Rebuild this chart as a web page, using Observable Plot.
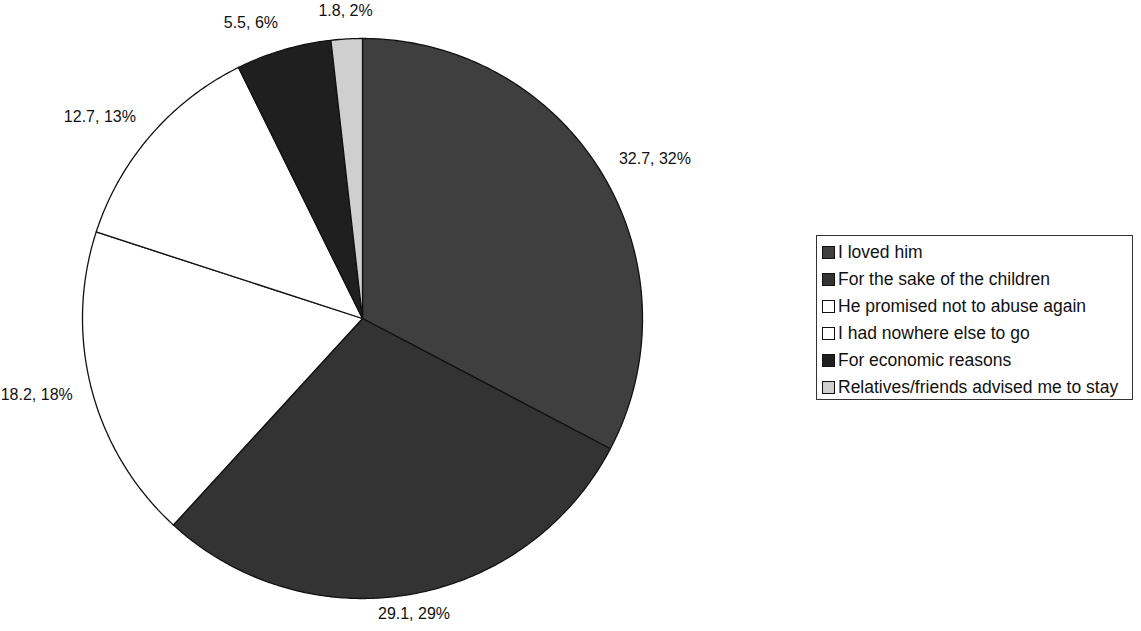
<!DOCTYPE html>
<html><head><meta charset="utf-8">
<script src="https://cdn.jsdelivr.net/npm/d3@7"></script>
<script src="https://cdn.jsdelivr.net/npm/@observablehq/plot@0.6"></script>
<style>
body{margin:0;background:#fff;font-family:"Liberation Sans",Arial,sans-serif;}
#wrap{position:relative;width:1141px;height:631px;}
#legend{position:absolute;left:816px;top:235px;width:317px;height:165px;border:1px solid #333;box-sizing:border-box;padding:3px 0 0 5px;font-size:17.5px;color:#111;}
#legend .row{height:27px;display:flex;align-items:center;white-space:nowrap;}
#legend .sw{width:11px;height:11px;border:1px solid #111;margin-right:3px;flex:none;}
</style></head>
<body><div id="wrap"><div id="chart"></div><div id="legend"></div></div>
<script>
const categories = ["I loved him","For the sake of the children","He promised not to abuse again","I had nowhere else to go","For economic reasons","Relatives/friends advised me to stay"];
const values = [32.7, 29.1, 18.2, 12.7, 5.5, 1.8];
const percents = ["32%","29%","18%","13%","6%","2%"];
const colors = ["#3f3f3f","#333333","#ffffff","#ffffff","#1f1f1f","#cfcfcf"];

const pie = d3.pie().sort(null).value(d => d.value).startAngle(0).endAngle(2*Math.PI);
const data = categories.map((name,i)=>({name, value: values[i], pct: percents[i]}));
const arcs = pie(data);

const pts = [];
for (const a of arcs) {
  pts.push({name:a.data.name, x:0, y:0});
  const n = Math.max(4, Math.ceil((a.endAngle - a.startAngle) / 0.01));
  for (let k=0;k<=n;k++){
    const t = a.startAngle + (a.endAngle - a.startAngle)*k/n;
    pts.push({name:a.data.name, x:Math.sin(t), y:Math.cos(t)});
  }
}
const labels = arcs.map(a=>{
  const m = (a.startAngle + a.endAngle)/2;
  const s = Math.sin(m), c = Math.cos(m);
  return {text: `${a.data.value}, ${a.data.pct}`, x: 1.07*s, y: 1.07*c + 0.029*Math.max(c,0),
    anchor: Math.abs(s) < 0.2 ? "middle" : (s > 0 ? "start" : "end")};
});

const chart = Plot.plot({
  width: 1141, height: 631,
  marginLeft: 82, marginRight: 499, marginTop: 38, marginBottom: 33,
  x: {domain: [-1,1], axis: null},
  y: {domain: [-1,1], axis: null},
  color: {domain: categories, range: colors},
  style: {fontFamily: "'Liberation Sans', Arial, sans-serif", fontSize: "16px", background: "#fff"},
  marks: [
    Plot.line(pts, {x:"x", y:"y", z:"name", fill:"name", stroke:"#111", strokeWidth:1.3, curve:"linear-closed"}),
    Plot.text(labels.filter(d=>d.anchor==="start"), {x:"x", y:"y", text:"text", textAnchor:"start", fill:"#111", fontSize:16}),
    Plot.text(labels.filter(d=>d.anchor==="end"), {x:"x", y:"y", text:"text", textAnchor:"end", fill:"#111", fontSize:16}),
    Plot.text(labels.filter(d=>d.anchor==="middle"), {x:"x", y:"y", text:"text", textAnchor:"middle", fill:"#111", fontSize:16})
  ]
});
document.getElementById("chart").appendChild(chart);

const lg = document.getElementById("legend");
categories.forEach((c,i)=>{
  const r = document.createElement("div"); r.className="row";
  const sw = document.createElement("span"); sw.className="sw"; sw.style.background = colors[i];
  const tx = document.createElement("span"); tx.textContent = c;
  r.appendChild(sw); r.appendChild(tx); lg.appendChild(r);
});
</script></body></html>
